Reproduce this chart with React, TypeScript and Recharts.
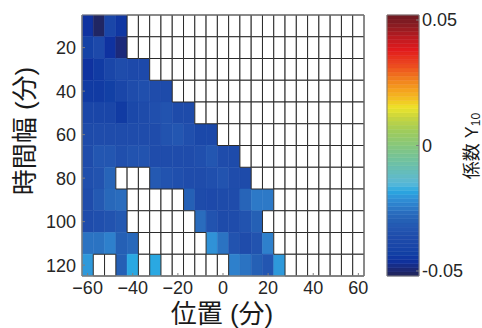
import React from 'react';
import { ScatterChart, Scatter, XAxis, YAxis, ReferenceArea } from 'recharts';

// Categories
const positions = [-60, -55, -50, -45, -40, -35, -30, -25, -20, -15, -10, -5, 0, 5, 10, 15, 20, 25, 30, 35, 40, 45, 50, 55, 60];
const widths = [10, 20, 30, 40, 50, 60, 70, 80, 90, 100, 110, 120];
const xTicks = [-60, -40, -20, 0, 20, 40, 60];
const yTicks = [20, 40, 60, 80, 100, 120];
const cbTicks = [-0.05, 0, 0.05];
const binW = 5;
const binH = 10;
const cLim = 0.052;

const N = null;
// coefficient values per time-width row (null = no data)
const row10 = [-0.046, -0.051, -0.040, -0.045, N, N, N, N, N, N, N, N, N, N, N, N, N, N, N, N, N, N, N, N, N];
const row20 = [-0.042, -0.038, -0.046, -0.049, N, N, N, N, N, N, N, N, N, N, N, N, N, N, N, N, N, N, N, N, N];
const row30 = [-0.046, -0.044, -0.040, -0.036, -0.038, -0.038, N, N, N, N, N, N, N, N, N, N, N, N, N, N, N, N, N, N, N];
const row40 = [-0.044, -0.044, -0.043, -0.040, -0.036, -0.035, -0.036, -0.037, N, N, N, N, N, N, N, N, N, N, N, N, N, N, N, N, N];
const row50 = [-0.040, -0.040, -0.040, -0.044, -0.039, -0.037, -0.035, -0.034, -0.037, -0.037, N, N, N, N, N, N, N, N, N, N, N, N, N, N, N];
const row60 = [-0.037, -0.036, -0.036, -0.036, -0.036, -0.036, -0.036, -0.034, -0.033, -0.035, -0.039, -0.039, N, N, N, N, N, N, N, N, N, N, N, N, N];
const row70 = [-0.036, -0.033, -0.033, -0.035, -0.034, -0.034, -0.036, -0.036, -0.036, -0.036, -0.035, -0.033, -0.036, -0.037, N, N, N, N, N, N, N, N, N, N, N];
const row80 = [-0.035, -0.034, -0.029, N, N, N, -0.032, -0.034, -0.035, -0.036, -0.036, -0.035, -0.034, -0.036, -0.037, N, N, N, N, N, N, N, N, N, N];
const row90 = [-0.036, -0.032, -0.028, -0.027, N, N, N, N, N, -0.030, -0.037, -0.038, -0.037, -0.036, -0.029, -0.025, -0.025, N, N, N, N, N, N, N, N];
const row100 = [-0.036, -0.035, -0.034, -0.032, N, N, N, N, N, N, -0.027, -0.034, -0.037, -0.036, -0.034, -0.030, N, N, N, N, N, N, N, N, N];
const row110 = [-0.026, -0.026, -0.024, -0.030, -0.028, N, N, N, N, N, N, -0.021, -0.026, -0.034, -0.036, -0.034, -0.024, N, N, N, N, N, N, N, N];
const row120 = [-0.020, N, N, -0.030, -0.018, N, -0.018, N, N, N, N, N, N, -0.024, -0.026, -0.030, -0.033, -0.020, N, N, N, N, N, N, N];
const rows = [row10, row20, row30, row40, row50, row60, row70, row80, row90, row100, row110, row120];

// colormap
const cmapValues = [-0.052, -0.049, -0.046, -0.043, -0.040, -0.036, -0.033, -0.030, -0.027, -0.024, -0.021, -0.018, -0.015, -0.0075, 0, 0.006, 0.011, 0.015, 0.018, 0.022, 0.027, 0.032, 0.038, 0.042, 0.048, 0.052];
const cmapColors = ['#222458', '#1c2a7a', '#0f32a0', '#1240a5', '#1a46a8', '#1f4cab', '#2356b1', '#2560b5', '#2a6cbd', '#2e80cc', '#3092d7', '#2aa8e2', '#5ab8d6', '#6cc0a8', '#86c77c', '#a0cc5a', '#c6d540', '#ede42a', '#f3c422', '#f5a21e', '#f07a1e', '#ec4a1f', '#e21b1d', '#c41b20', '#8a1c22', '#6e1a22'];
const cmapLevels = 64;

const hexToRgb = (h: string) => [parseInt(h.slice(1, 3), 16), parseInt(h.slice(3, 5), 16), parseInt(h.slice(5, 7), 16)];
const toHex = (n: number) => Math.round(n).toString(16).padStart(2, '0');
function colorOf(v: number): string {
  if (v <= cmapValues[0]) return cmapColors[0];
  const last = cmapValues.length - 1;
  if (v >= cmapValues[last]) return cmapColors[last];
  for (let i = 0; i < last; i++) {
    const a = cmapValues[i];
    const b = cmapValues[i + 1];
    if (v >= a && v <= b) {
      const t = (v - a) / (b - a);
      const ca = hexToRgb(cmapColors[i]);
      const cb = hexToRgb(cmapColors[i + 1]);
      return '#' + toHex(ca[0] + (cb[0] - ca[0]) * t) + toHex(ca[1] + (cb[1] - ca[1]) * t) + toHex(ca[2] + (cb[2] - ca[2]) * t);
    }
  }
  return cmapColors[last];
}

type Cell = { x: number; y: number; v: number | null };
const cells: Cell[] = [];
rows.forEach((r, ri) => r.forEach((v, ci) => cells.push({ x: positions[ci], y: widths[ri], v })));
const filled = cells.filter((c) => c.v !== null);
const empty = cells.filter((c) => c.v === null);

const levelStep = (2 * cLim) / cmapLevels;
const levels = Array.from({ length: cmapLevels }, (_, i) => ({
  lo: -cLim + i * levelStep,
  hi: -cLim + (i + 1) * levelStep,
  color: colorOf(-cLim + (i + 0.5) * levelStep),
}));

const tickFont = 'Liberation Sans, Arial, Helvetica, sans-serif';
const cjkFont = 'Liberation Sans, Arial, "Noto Sans CJK JP", sans-serif';
const textColor = '#262626';
const axisColor = '#7f7f7f';

const fmtX = (v: number) => (v < 0 ? '\u2212' + Math.abs(v) : String(v));
const fmtCb = (v: number) => (v === 0 ? '0' : v < 0 ? '-' + Math.abs(v).toFixed(2) : v.toFixed(2));

const XTitle = () => (
  <text x={222} y={314} textAnchor="middle" dominantBaseline="central" fontSize={26} fill="#1a1a1a" fontFamily={cjkFont}>
    位置 (分)
  </text>
);
const YTitle = () => (
  <text x={25} y={131} transform="rotate(-90 25 131)" textAnchor="middle" dominantBaseline="central" fontSize={26} fill="#1a1a1a" fontFamily={cjkFont}>
    時間幅 (分)
  </text>
);
const CbTitle = () => (
  <text x={472} y={146} transform="rotate(-90 472 146)" textAnchor="middle" dominantBaseline="central" fontSize={18} fill="#1a1a1a" fontFamily={cjkFont}>
    係数 Y<tspan fontSize={12} dy={4}>10</tspan>
  </text>
);

const Nothing = () => <g />;

export default function App() {
  return (
    <div style={{ position: 'absolute', left: 0, top: 0, width: 482, height: 328, background: '#fff' }}>
      <div style={{ position: 'absolute', left: 0, top: 0 }}>
        <ScatterChart width={482} height={328} margin={{ top: 15, right: 118, bottom: 0, left: 0 }}>
          {filled.map((c, i) => (
            <ReferenceArea
              key={'f' + i}
              x1={c.x - binW / 2}
              x2={c.x + binW / 2}
              y1={c.y - binH / 2}
              y2={c.y + binH / 2}
              fill={colorOf(c.v as number)}
              fillOpacity={1}
              stroke={colorOf(c.v as number)}
              strokeWidth={0.5}
              ifOverflow="visible"
            />
          ))}
          {empty.map((c, i) => (
            <ReferenceArea
              key={'e' + i}
              x1={c.x - binW / 2}
              x2={c.x + binW / 2}
              y1={c.y - binH / 2}
              y2={c.y + binH / 2}
              fill="#ffffff"
              fillOpacity={1}
              stroke="#2b2b2b"
              strokeWidth={1}
              ifOverflow="visible"
            />
          ))}
          <ReferenceArea x1={-62.5} x2={62.5} y1={5} y2={125} fill="none" fillOpacity={0} stroke={axisColor} strokeWidth={1} ifOverflow="visible" />
          <XAxis
            type="number"
            dataKey="x"
            domain={[-62.5, 62.5]}
            allowDataOverflow
            ticks={xTicks}
            interval={0}
            tickFormatter={fmtX}
            height={52}
            tickSize={-3}
            tickMargin={8}
            axisLine={{ stroke: axisColor }}
            tickLine={{ stroke: axisColor }}
            tick={{ fontSize: 18, fill: textColor, fontFamily: tickFont }}
            label={<XTitle />}
          />
          <YAxis
            type="number"
            dataKey="y"
            domain={[5, 125]}
            allowDataOverflow
            reversed
            ticks={yTicks}
            interval={0}
            width={82}
            tickSize={-3}
            tickMargin={9}
            axisLine={{ stroke: axisColor }}
            tickLine={{ stroke: axisColor }}
            tick={{ fontSize: 18, fill: textColor, fontFamily: tickFont }}
            label={<YTitle />}
          />
          <Scatter data={cells} shape={<Nothing />} isAnimationActive={false} />
        </ScatterChart>
      </div>
      <div style={{ position: 'absolute', left: 0, top: 0 }}>
        <ScatterChart width={482} height={328} margin={{ top: 15, right: 0, bottom: 52, left: 387 }}>
          {levels.map((l, i) => (
            <ReferenceArea key={'l' + i} y1={l.lo} y2={l.hi} fill={l.color} fillOpacity={1} stroke={l.color} strokeWidth={0.5} ifOverflow="visible" />
          ))}
          <ReferenceArea y1={-cLim} y2={cLim} fill="none" fillOpacity={0} stroke={axisColor} strokeWidth={1} ifOverflow="visible" />
          <XAxis type="number" dataKey="x" domain={[0, 1]} hide />
          <YAxis
            type="number"
            dataKey="y"
            orientation="right"
            domain={[-cLim, cLim]}
            allowDataOverflow
            ticks={cbTicks}
            interval={0}
            width={63}
            tickSize={-3}
            tickMargin={6}
            tickFormatter={fmtCb}
            axisLine={false}
            tickLine={{ stroke: axisColor }}
            tick={{ fontSize: 18, fill: textColor, fontFamily: tickFont }}
            label={<CbTitle />}
          />
          <Scatter data={[{ x: 0.5, y: 0 }]} shape={<Nothing />} isAnimationActive={false} />
        </ScatterChart>
      </div>
    </div>
  );
}
